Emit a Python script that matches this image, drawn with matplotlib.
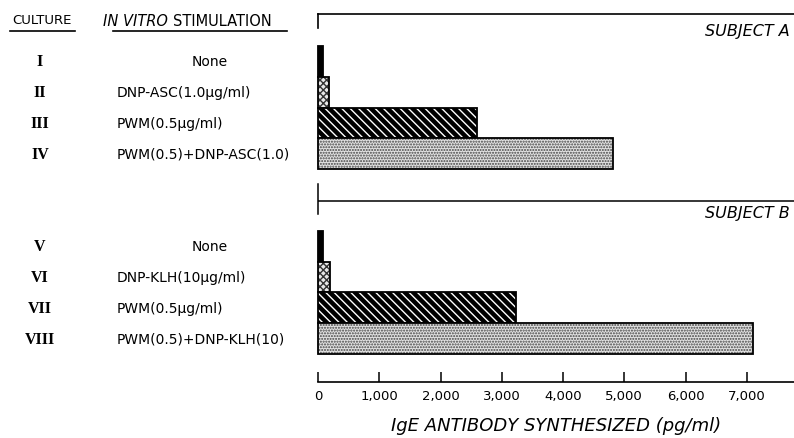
import matplotlib
matplotlib.use("Agg")
import matplotlib.pyplot as plt
from matplotlib.transforms import blended_transform_factory

# data
cultures = ['I', 'II', 'III', 'IV', 'V', 'VI', 'VII', 'VIII']
stimulation = ['None', 'DNP-ASC(1.0μg/ml)', 'PWM(0.5μg/ml)', 'PWM(0.5)+DNP-ASC(1.0)',
               'None', 'DNP-KLH(10μg/ml)', 'PWM(0.5μg/ml)', 'PWM(0.5)+DNP-KLH(10)']
ige_a = [80, 180, 2590, 4820]
ige_b = [80, 190, 3230, 7100]
subjects = ['SUBJECT A', 'SUBJECT B']
xticks = [0, 1000, 2000, 3000, 4000, 5000, 6000, 7000]
xtick_labels = ['0', '1,000', '2,000', '3,000', '4,000', '5,000', '6,000', '7,000']

values = ige_a + ige_b
ypos = [0, 1, 2, 3, 6, 7, 8, 9]

plt.rcParams['hatch.linewidth'] = 1.0

W, H = 794, 439
fig = plt.figure(figsize=(W / 100, H / 100), dpi=100)
ax = fig.add_axes([318 / W, 1 - 383 / H, 1 - 318 / W, (383 - 15) / H])
ax.set_xlim(0, 7770)
ax.set_ylim(10.41, -1.54)

# bar styles: solid, cross-hatch, black with white diagonals, stipple
styles = [
    dict(color='black', edgecolor='black', hatch=None),
    dict(color='#e8e8e8', edgecolor='#333333', hatch='xxxxx'),
    dict(color='black', edgecolor='white', hatch='\\\\\\\\'),
    dict(color='#e2e2e2', edgecolor='#444444', hatch='......'),
]

for i, (y, v) in enumerate(zip(ypos, values)):
    st = styles[i % 4]
    ax.barh(y, v, height=1.0, color=st['color'], edgecolor=st['edgecolor'],
            hatch=st['hatch'], linewidth=0, clip_on=False)
    ax.barh(y, v, height=1.0, fill=False, edgecolor='black', linewidth=1.3,
            clip_on=False)

# frame lines
for s in ['left', 'right']:
    ax.spines[s].set_visible(False)
ax.spines['top'].set_linewidth(1.2)
ax.spines['bottom'].set_linewidth(1.2)
ax.plot([0, 0], [-1.54, -1.08], color='black', lw=1.2, clip_on=False)
ax.axhline(4.53, color='black', lw=1.1)
ax.plot([0, 0], [3.98, 4.95], color='black', lw=1.1, clip_on=False)

ax.set_yticks([])
ax.set_xticks(xticks)
ax.set_xticklabels(xtick_labels, fontsize=9.5)
ax.tick_params(axis='x', direction='in', length=7, width=1.1, pad=5)

fig.text(556 / W, 1 - 426 / H, 'IgE ANTIBODY SYNTHESIZED (pg/ml)', style='italic',
         fontsize=13, ha='center', va='center')

tr = blended_transform_factory(fig.transFigure, ax.transData)
ax.text(0.995, -1.0, subjects[0], transform=tr, style='italic', fontsize=11.5,
        ha='right', va='center')
ax.text(0.995, 4.92, subjects[1], transform=tr, style='italic', fontsize=11.5,
        ha='right', va='center')

# left hand columns
for y, c, s in zip(ypos, cultures, stimulation):
    ax.text(40 / W, y, c, transform=tr, family='Liberation Serif', fontweight='bold',
            fontsize=11.5, ha='center', va='center')
    if s == 'None':
        ax.text(210 / W, y, s, transform=tr, fontsize=10, ha='center', va='center')
    else:
        ax.text(117 / W, y, s, transform=tr, fontsize=10, ha='left', va='center')

# headers with underlines
fig.text(42 / W, 1 - 21 / H, 'CULTURE', fontsize=9.5, ha='center', va='center')
fig.text(168 / W, 1 - 21 / H, 'IN VITRO', style='italic', fontsize=10.5, ha='right', va='center')
fig.text(173 / W, 1 - 21 / H, 'STIMULATION', fontsize=10.5, ha='left', va='center')
fig.add_artist(plt.Line2D([10 / W, 75 / W], [1 - 32 / H, 1 - 32 / H], color='black', lw=1.2))
fig.add_artist(plt.Line2D([113 / W, 287 / W], [1 - 32 / H, 1 - 32 / H], color='black', lw=1.2))

fig.savefig('out.png', dpi=100)
